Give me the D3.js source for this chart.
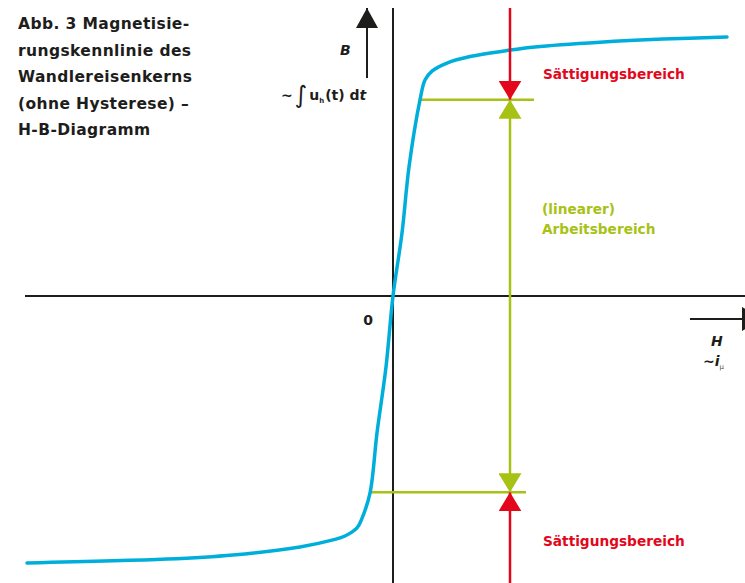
<!DOCTYPE html>
<html lang="de">
<head>
<meta charset="UTF-8">
<title>Magnetisierungskennlinie</title>
<script src="https://d3js.org/d3.v7.min.js"></script>
<style>
  body { margin: 0; background: #fff; }
  svg { font-family: "DejaVu Sans", "Open Sans", sans-serif; }
</style>
</head>
<body>
<script>
// curve of the transformer iron core, H (x) and B (y) in chart units
const curveH = [-36.6, -22.6, -16, -9.3, -6, -4.8, -3.6, -3.1, -2.3, -1.6, -0.7, 0, 0.9, 1.6, 2.7, 3.2, 3.9, 5.4, 7.7, 11.7, 14.2, 20.7, 27, 33.4];
const curveB = [-102.7, -101.2, -99.6, -96.5, -93.8, -92.3, -89.2, -85.5, -75.8, -52.7, -27.3, 0, 24.2, 49.6, 75.4, 83.1, 86.5, 89.6, 92.1, 94.6, 95.8, 97.6, 98.8, 99.6];

// limits of the linear working range
const workLevels = [75.5, -75.5];
const workLineStart = [2.7, -2.3];
const workLineEnd = [14.1, 13.3];
const markerH = 11.7;

const titleLines = ["Abb. 3  Magnetisie-", "rungskennlinie des", "Wandlereisenkerns", "(ohne Hysterese) –", "H-B-Diagramm"];
const satLabel = "Sättigungsbereich";
const workLabel = ["(linearer)", "Arbeitsbereich"];

const W = 745, Hgt = 583;
const blue = "#00aedb", red = "#e2071a", green = "#a7c214", black = "#1d1d1b";

const svg = d3.select("body").append("svg")
  .attr("width", W).attr("height", Hgt);

const x = d3.scaleLinear().domain([-36.8, 35.2]).range([25, 745]);
const y = d3.scaleLinear().domain([-110, 110]).range([582, 10]);

const yTop = y.invert(8), yBottom = y.invert(Hgt + 2);

// arrow heads
const defs = svg.append("defs");
function head(id, color, w, h, back) {
  defs.append("marker")
    .attr("id", id)
    .attr("viewBox", `0 0 ${h} ${w}`)
    .attr("refX", back ? 0 : h).attr("refY", w / 2)
    .attr("markerWidth", h).attr("markerHeight", w)
    .attr("markerUnits", "userSpaceOnUse")
    .attr("orient", "auto")
    .append("path")
    .attr("d", back ? `M${h},0L0,${w / 2}L${h},${w}Z` : `M0,0L${h},${w / 2}L0,${w}Z`)
    .attr("fill", color);
}
head("redHead", red, 23, 19);
head("greenHead", green, 23, 19);
head("greenHeadR", green, 23, 19, true);
head("blackHead", black, 22, 20);
head("blackHeadS", black, 24, 22);

// axes
svg.append("line")
  .attr("x1", x(-36.8)).attr("x2", x(35.2))
  .attr("y1", y(0)).attr("y2", y(0))
  .attr("stroke", black).attr("stroke-width", 2);
svg.append("line")
  .attr("x1", x(0)).attr("x2", x(0))
  .attr("y1", y(yTop)).attr("y2", y(yBottom))
  .attr("stroke", black).attr("stroke-width", 2);

// small direction arrows for B and H
svg.append("line")
  .attr("x1", x(-2.6)).attr("x2", x(-2.6))
  .attr("y1", 78).attr("y2", 8)
  .attr("stroke", black).attr("stroke-width", 2)
  .attr("marker-end", "url(#blackHead)");
svg.append("line")
  .attr("x1", 690).attr("x2", 764)
  .attr("y1", 319).attr("y2", 319)
  .attr("stroke", black).attr("stroke-width", 2)
  .attr("marker-end", "url(#blackHeadS)");

// green horizontal limits
workLevels.forEach((b, i) => {
  svg.append("line")
    .attr("x1", x(workLineStart[i])).attr("x2", x(workLineEnd[i]))
    .attr("y1", y(b)).attr("y2", y(b))
    .attr("stroke", green).attr("stroke-width", 2.5);
});

// curve
const line = d3.line()
  .x((d, i) => x(curveH[i]))
  .y((d, i) => y(curveB[i]))
  .curve(d3.curveCatmullRom.alpha(0.5));
svg.append("path")
  .datum(curveH)
  .attr("d", line)
  .attr("fill", "none")
  .attr("stroke", blue)
  .attr("stroke-width", 3.5)
  .attr("stroke-linecap", "round");

// red saturation arrows
svg.append("line")
  .attr("x1", x(markerH)).attr("x2", x(markerH))
  .attr("y1", y(yTop)).attr("y2", y(workLevels[0]))
  .attr("stroke", red).attr("stroke-width", 2.5)
  .attr("marker-end", "url(#redHead)");
svg.append("line")
  .attr("x1", x(markerH)).attr("x2", x(markerH))
  .attr("y1", y(yBottom)).attr("y2", y(workLevels[1]))
  .attr("stroke", red).attr("stroke-width", 2.5)
  .attr("marker-end", "url(#redHead)");

// green working range arrow
svg.append("line")
  .attr("x1", x(markerH)).attr("x2", x(markerH))
  .attr("y1", y(workLevels[0])).attr("y2", y(workLevels[1]))
  .attr("stroke", green).attr("stroke-width", 2.5)
  .attr("marker-start", "url(#greenHeadR)")
  .attr("marker-end", "url(#greenHead)");

// title
const title = svg.append("text")
  .attr("x", 18).attr("y", 29)
  .attr("font-size", 15.5).attr("font-weight", 700)
  .attr("letter-spacing", 0.4)
  .attr("fill", black);
titleLines.forEach((t, i) => {
  title.append("tspan").attr("x", 18).attr("dy", i ? 26.5 : 0).text(t);
});

// labels
svg.append("text")
  .attr("x", 543).attr("y", 79)
  .attr("font-size", 13.7).attr("font-weight", 700).attr("fill", red)
  .text(satLabel);
svg.append("text")
  .attr("x", 543).attr("y", 546)
  .attr("font-size", 13.7).attr("font-weight", 700).attr("fill", red)
  .text(satLabel);
const wl = svg.append("text")
  .attr("x", 542).attr("y", 214)
  .attr("font-size", 13.7).attr("font-weight", 700).attr("fill", green);
workLabel.forEach((t, i) => {
  wl.append("tspan").attr("x", 542).attr("dy", i ? 20 : 0).text(t);
});

svg.append("text")
  .attr("x", 368).attr("y", 325)
  .attr("text-anchor", "middle")
  .attr("font-size", 14).attr("font-weight", 700).attr("fill", black)
  .text("0");

svg.append("text")
  .attr("x", 340).attr("y", 55)
  .attr("font-size", 14).attr("font-weight", 700).attr("font-style", "italic")
  .attr("fill", black)
  .text("B");

const integ = svg.append("text")
  .attr("x", 281).attr("y", 100)
  .attr("font-size", 14).attr("font-weight", 700).attr("fill", black);
integ.append("tspan").text("~");
integ.append("tspan").attr("dx", 2).attr("font-size", 24).attr("font-weight", 400)
  .attr("dy", 3).text("∫");
integ.append("tspan").attr("dx", 2).attr("dy", -3).text("u");
integ.append("tspan").attr("font-size", 7).attr("dy", 3).text("h");
integ.append("tspan").attr("dy", -3).attr("dx", 1).text("(t) d");
integ.append("tspan").attr("font-style", "italic").text("t");

svg.append("text")
  .attr("x", 711).attr("y", 346)
  .attr("font-size", 14).attr("font-weight", 700).attr("font-style", "italic")
  .attr("fill", black)
  .text("H");
const iMu = svg.append("text")
  .attr("x", 703).attr("y", 366)
  .attr("font-size", 14).attr("font-weight", 700).attr("fill", black);
iMu.append("tspan").text("~");
iMu.append("tspan").attr("font-style", "italic").text("i");
iMu.append("tspan").attr("font-size", 7).attr("font-weight", 400).attr("fill", "#555")
  .attr("dy", 3).text("μ");
</script>
</body>
</html>
